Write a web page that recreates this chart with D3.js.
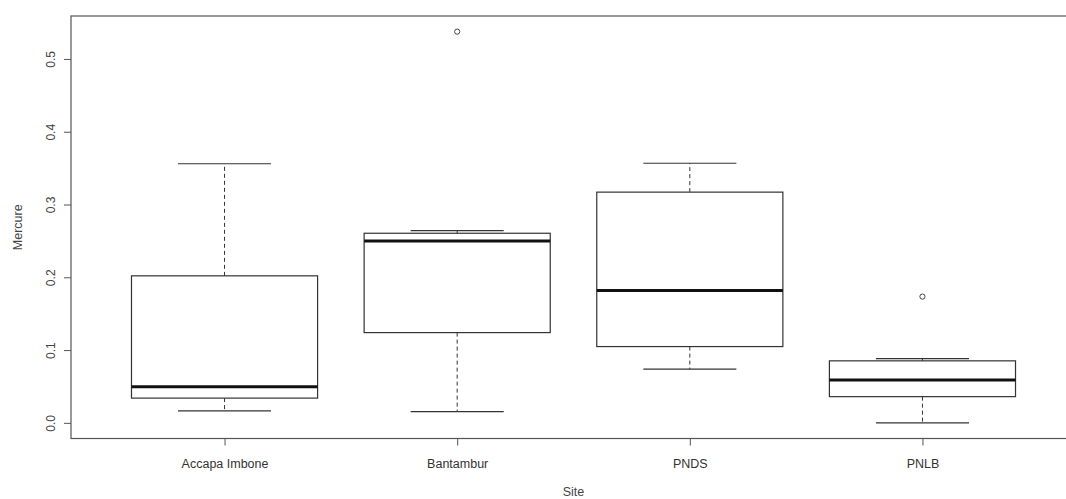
<!DOCTYPE html>
<html>
<head>
<meta charset="utf-8">
<script src="https://cdn.jsdelivr.net/npm/d3@7"></script>
<style>
  html, body { margin: 0; padding: 0; background: #fff; }
  svg { display: block; }
  text { font-family: "Liberation Sans", Arial, sans-serif; }
</style>
</head>
<body>
<svg id="chart" width="1066" height="499"></svg>
<script>
// Mercury concentration per site: five-number summaries and outliers
const sites = ["Accapa Imbone", "Bantambur", "PNDS", "PNLB"];
const lowerWhisker = [0.0165, 0.0155, 0.0737, 0.0];
const q1 = [0.034, 0.124, 0.1048, 0.036];
const median = [0.0495, 0.250, 0.1817, 0.059];
const q3 = [0.202, 0.2605, 0.317, 0.0852];
const upperWhisker = [0.356, 0.264, 0.3567, 0.0883];
const outliers = [[], [0.5375], [], [0.1735]];
const yTicks = [0.0, 0.1, 0.2, 0.3, 0.4, 0.5];

const svg = d3.select("#chart");

// Data range padded by 4% on each side, as in base R graphics
const allVals = lowerWhisker.concat(upperWhisker, outliers.flat());
const yMin = d3.min(allVals), yMax = d3.max(allVals);
const yPad = (yMax - yMin) * 0.04;
const y = d3.scaleLinear().domain([yMin - yPad, yMax + yPad]).range([438.5, 16]);

const xPad = (sites.length - 0) * 0.04;
const x = d3.scaleLinear().domain([0.5 - xPad, sites.length + 0.5 + xPad]).range([71, 1076]);

const boxHalf = 0.4, capHalf = 0.2;
const idx = d3.range(sites.length);

// Plot frame
svg.append("rect")
  .attr("x", x.range()[0]).attr("y", y.range()[1])
  .attr("width", x.range()[1] - x.range()[0])
  .attr("height", y.range()[0] - y.range()[1])
  .attr("fill", "none").attr("stroke", "#555").attr("stroke-width", 1.2);

// Y axis
const yAxis = svg.append("g")
  .attr("transform", `translate(${x.range()[0]},0)`)
  .call(d3.axisLeft(y).tickValues(yTicks).tickFormat(d3.format(".1f")).tickSize(7).tickPadding(0));
yAxis.select(".domain").remove();
yAxis.selectAll(".tick line").attr("stroke", "#555");
yAxis.selectAll(".tick text")
  .attr("fill", "#444").attr("font-size", 12)
  .attr("text-anchor", "middle").attr("dy", null)
  .attr("transform", "translate(-19,0) rotate(-90)")
  .attr("x", 0).attr("y", 0)
  .attr("dominant-baseline", "middle");

// X axis
const xAxis = svg.append("g")
  .attr("transform", `translate(0,${y.range()[0]})`)
  .call(d3.axisBottom(x).tickValues(idx.map(i => i + 1)).tickFormat(d => sites[d - 1]).tickSize(7).tickPadding(14));
xAxis.select(".domain").remove();
xAxis.selectAll(".tick line").attr("stroke", "#555");
xAxis.selectAll(".tick text").attr("fill", "#333").attr("font-size", 12.5);

// Axis titles
svg.append("text")
  .attr("transform", `translate(19,${(y.range()[0] + y.range()[1]) / 2}) rotate(-90)`)
  .attr("text-anchor", "middle").attr("dominant-baseline", "middle")
  .attr("font-size", 12.5).attr("fill", "#444").text("Mercure");
svg.append("text")
  .attr("x", x((sites.length + 1) / 2)).attr("y", 496)
  .attr("text-anchor", "middle").attr("font-size", 12.5).attr("fill", "#444").text("Site");

// Boxes
const g = svg.append("g").selectAll("g").data(idx).join("g");

// Whiskers (dashed)
g.append("line")
  .attr("x1", i => x(i + 1)).attr("x2", i => x(i + 1))
  .attr("y1", i => y(q3[i])).attr("y2", i => y(upperWhisker[i]))
  .attr("stroke", "#333").attr("stroke-dasharray", "4,3");
g.append("line")
  .attr("x1", i => x(i + 1)).attr("x2", i => x(i + 1))
  .attr("y1", i => y(q1[i])).attr("y2", i => y(lowerWhisker[i]))
  .attr("stroke", "#333").attr("stroke-dasharray", "4,3");

// Whisker caps
g.append("line")
  .attr("x1", i => x(i + 1 - capHalf)).attr("x2", i => x(i + 1 + capHalf))
  .attr("y1", i => y(upperWhisker[i])).attr("y2", i => y(upperWhisker[i]))
  .attr("stroke", "#333").attr("stroke-width", 1.2);
g.append("line")
  .attr("x1", i => x(i + 1 - capHalf)).attr("x2", i => x(i + 1 + capHalf))
  .attr("y1", i => y(lowerWhisker[i])).attr("y2", i => y(lowerWhisker[i]))
  .attr("stroke", "#333").attr("stroke-width", 1.2);

// Box
g.append("rect")
  .attr("x", i => x(i + 1 - boxHalf))
  .attr("width", i => x(i + 1 + boxHalf) - x(i + 1 - boxHalf))
  .attr("y", i => y(q3[i]))
  .attr("height", i => y(q1[i]) - y(q3[i]))
  .attr("fill", "none").attr("stroke", "#333").attr("stroke-width", 1.2);

// Median
g.append("line")
  .attr("x1", i => x(i + 1 - boxHalf)).attr("x2", i => x(i + 1 + boxHalf))
  .attr("y1", i => y(median[i])).attr("y2", i => y(median[i]))
  .attr("stroke", "#111").attr("stroke-width", 3);

// Outliers
g.selectAll("circle").data(i => outliers[i].map(v => ({ i, v }))).join("circle")
  .attr("cx", d => x(d.i + 1)).attr("cy", d => y(d.v)).attr("r", 2.6)
  .attr("fill", "none").attr("stroke", "#444").attr("stroke-width", 1);
</script>
</body>
</html>
